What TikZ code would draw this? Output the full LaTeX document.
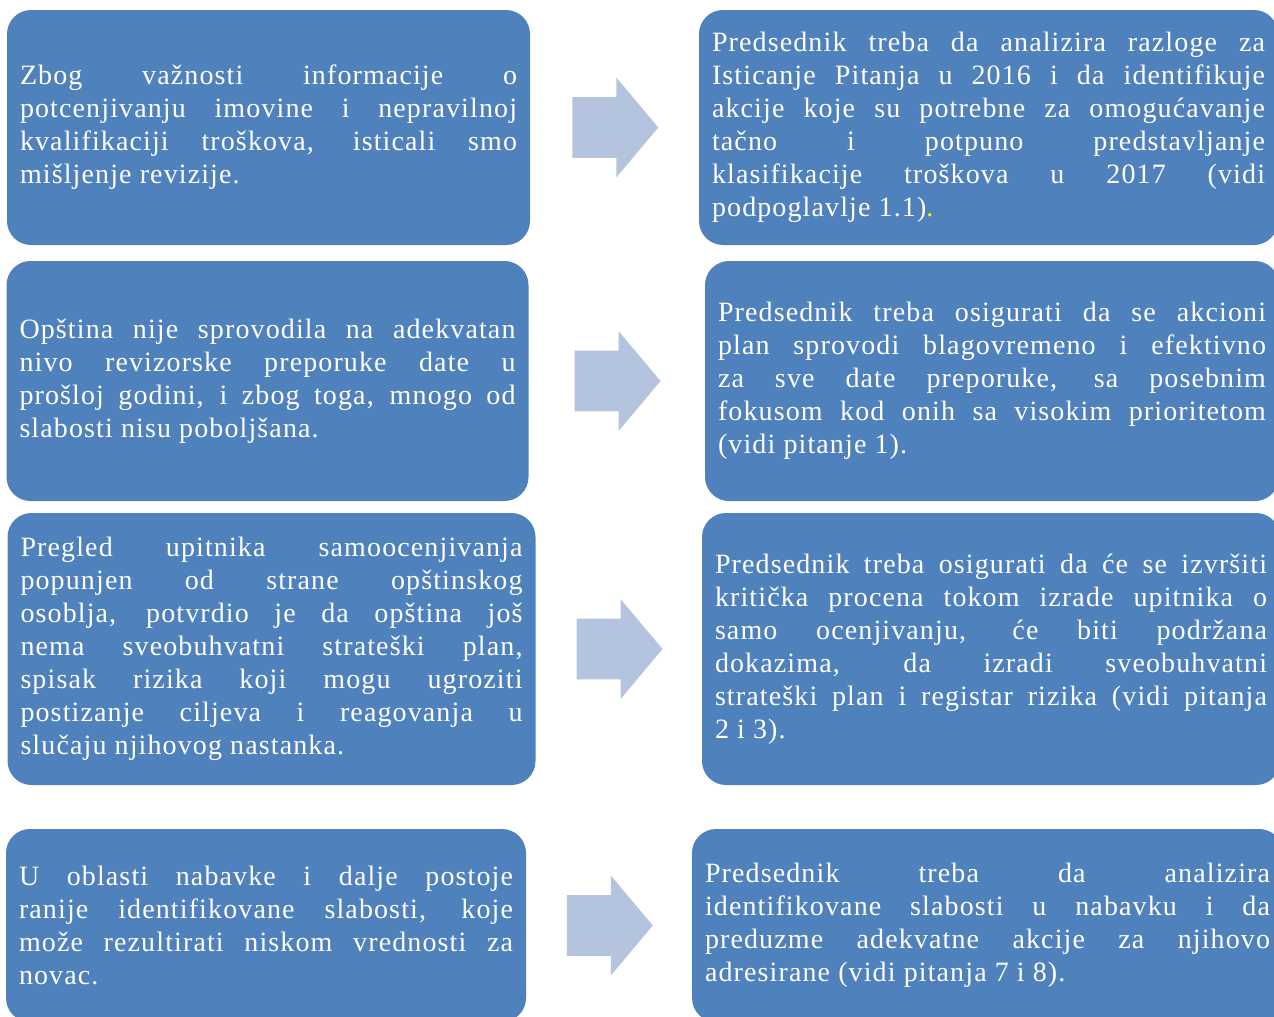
\documentclass[tikz,border=0pt]{standalone}
\usepackage{fontspec}
\setmainfont{Liberation Serif}[LetterSpace=4]
\usepackage{tikz}
\usetikzlibrary{shapes.arrows,positioning}
\definecolor{BoxBlue}{RGB}{79,129,189}
\definecolor{ArrowBlue}{RGB}{180,196,222}
\newcommand{\boxfont}{\fontsize{14}{16.5}\selectfont
  \tolerance=10000\hyphenpenalty=10000\color{white}}

\begin{document}
\begin{tikzpicture}[x=0.5pt,y=-0.5pt,
    box/.style={fill=BoxBlue,rounded corners=12pt,inner xsep=6.5pt,
      inner ysep=0pt,align=justify,font=\boxfont},
    bigarrow/.style={single arrow,fill=ArrowBlue,inner xsep=0pt,inner ysep=15pt,
      minimum height=43pt,minimum width=49.5pt,xshift=-6pt,
      single arrow head extend=9.75pt,single arrow tip angle=100}]
  \useasboundingbox (0,0) rectangle (1274,1017);
  \clip (0,0) rectangle (1274,1017);
  % left column
  \node[box,text width=248.5pt,minimum height=117.5pt] (L1) at (268.5,127.5)
    {Zbog važnosti informacije o\linebreak potcenjivanju imovine i nepravilnoj\linebreak
     kvalifikaciji troškova, isticali smo\linebreak mišljenje revizije.};
  \node[box,text width=248pt,minimum height=120pt] (L2) at (267.5,381)
    {Opština nije sprovodila na adekvatan\linebreak nivo revizorske preporuke date u\linebreak
     prošloj godini, i zbog toga, mnogo od\linebreak slabosti nisu poboljšana.};
  \node[box,text width=251pt,minimum height=136pt] (L3) at (271.5,649)
    {Pregled upitnika samoocenjivanja\linebreak popunjen od strane opštinskog\linebreak
     osoblja, potvrdio je da opština još\linebreak nema sveobuhvatni strateški plan,\linebreak
     spisak rizika koji mogu ugroziti\linebreak postizanje ciljeva i reagovanja u\linebreak
     slučaju njihovog nastanka.};
  \node[box,text width=247pt,minimum height=96.5pt] (L4) at (266,925.5)
    {U oblasti nabavke i dalje postoje\linebreak ranije identifikovane slabosti, koje\linebreak
     može rezultirati niskom vrednosti za\linebreak novac.};
  % right column
  \node[box,text width=276.5pt,minimum height=117.5pt] (R1) at (988.5,127.5)
    {Predsednik treba da analizira razloge za\linebreak Isticanje Pitanja u 2016 i da identifikuje\linebreak
     akcije koje su potrebne za omogućavanje\linebreak tačno i potpuno predstavljanje\linebreak
     klasifikacije troškova u 2017 (vidi\linebreak podpoglavlje 1.1)\textcolor{yellow}{.}};
  \node[box,text width=274pt,minimum height=120pt] (R2) at (992,381)
    {Predsednik treba osigurati da se akcioni\linebreak plan sprovodi blagovremeno i efektivno\linebreak
     za sve date preporuke, sa posebnim\linebreak fokusom kod onih sa visokim prioritetom\linebreak
     (vidi pitanje 1).};
  \node[box,text width=276pt,minimum height=136pt] (R3) at (991,649)
    {Predsednik treba osigurati da će se izvršiti\linebreak kritička procena tokom izrade upitnika o\linebreak
     samo ocenjivanju, će biti podržana\linebreak dokazima, da izradi sveobuhvatni\linebreak
     strateški plan i registar rizika (vidi pitanja\linebreak 2 i 3).};
  \node[box,text width=282.5pt,minimum height=96.5pt] (R4) at (987.5,925.5)
    {Predsednik treba da analizira\linebreak identifikovane slabosti u nabavku i da\linebreak
     preduzme adekvatne akcije za njihovo\linebreak adresirane (vidi pitanja 7 i 8).};
  % arrows between the columns
  \foreach \i in {1,...,4}
    \path (L\i.east) -- (R\i.west) node[midway,bigarrow] (A\i) {};
\end{tikzpicture}
\end{document}
